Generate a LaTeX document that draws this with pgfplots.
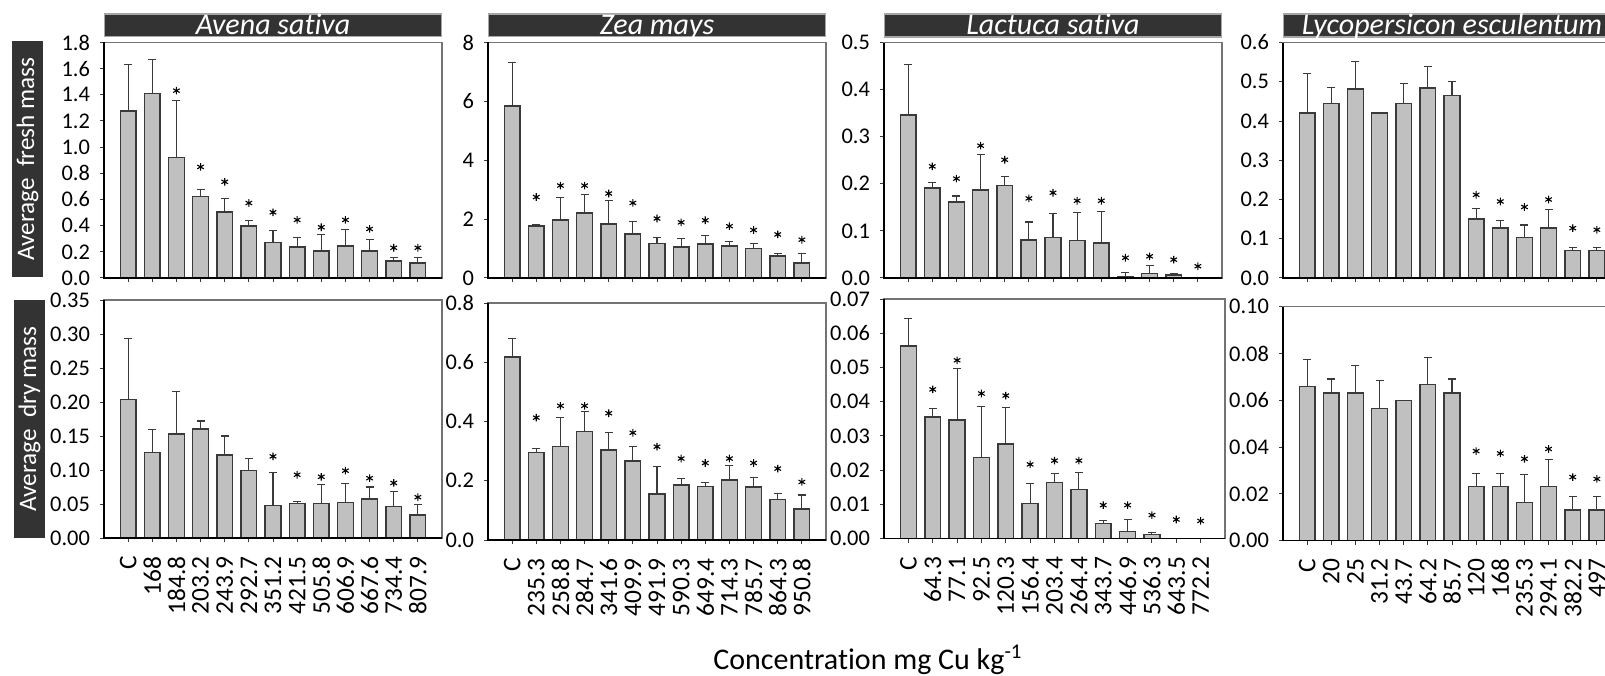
\documentclass[border=0pt]{standalone}
\usepackage{pgfplots}
\pgfplotsset{compat=1.18}
\usepackage{pgfplotstable}
\usepackage{fontspec}
\setmainfont{Carlito}[Ligatures=NoCommon]

\definecolor{barfill}{HTML}{C0C0C0}
\definecolor{boxdark}{HTML}{333333}
\definecolor{edge}{HTML}{3A3A3A}

% x: position, y: mean, t: top of error bar (nan = none), s: asterisk height (nan = none)
\pgfplotstableread{
x y t s
0 1.275 1.635 nan
1 1.412 1.668 nan
2 0.920 1.359 1.432
3 0.624 0.674 0.849
4 0.505 0.608 0.735
5 0.396 0.441 0.573
6 0.271 0.363 0.502
7 0.236 0.309 0.444
8 0.205 0.330 0.388
9 0.246 0.368 0.444
10 0.205 0.292 0.375
11 0.129 0.160 0.231
12 0.114 0.160 0.231
}\tA
\pgfplotstableread{
x y t s
0 5.85 7.31 nan
1 1.76 1.81 2.75
2 1.97 2.73 3.14
3 2.20 2.84 3.14
4 1.83 2.64 2.87
5 1.50 1.92 2.55
6 1.18 1.39 2.02
7 1.05 1.34 1.89
8 1.16 1.45 1.96
9 1.09 1.23 1.76
10 1.01 1.17 1.63
11 0.75 0.83 1.48
12 0.51 0.83 1.30
}\tB
\pgfplotstableread{
x y t s
0 0.346 0.454 nan
1 0.191 0.203 0.237
2 0.161 0.174 0.211
3 0.187 0.263 0.281
4 0.196 0.215 0.251
5 0.081 0.119 0.169
6 0.086 0.137 0.181
7 0.080 0.139 0.164
8 0.074 0.142 0.164
9 0.0036 0.011 0.043
10 0.0092 0.026 0.046
11 0.0064 0.009 0.039
12 0 nan 0.025
}\tC
\pgfplotstableread{
x y t s
0 0.421 0.520 nan
1 0.444 0.485 nan
2 0.481 0.551 nan
3 0.421 nan nan
4 0.445 0.495 nan
5 0.484 0.539 nan
6 0.465 0.501 nan
7 0.150 0.176 0.212
8 0.127 0.147 0.195
9 0.103 0.135 0.181
10 0.127 0.174 0.200
11 0.070 0.078 0.127
12 0.070 0.078 0.123
}\tD
\pgfplotstableread{
x y t s
0 0.204 0.293 nan
1 0.126 0.160 nan
2 0.153 0.215 nan
3 0.160 0.172 nan
4 0.122 0.150 nan
5 0.099 0.117 nan
6 0.048 0.096 0.120
7 0.051 0.054 0.093
8 0.051 0.079 0.090
9 0.052 0.080 0.099
10 0.057 0.075 0.088
11 0.046 0.069 0.081
12 0.034 0.049 0.060
}\bA
\pgfplotstableread{
x y t s
0 0.617 0.680 nan
1 0.295 0.310 0.413
2 0.316 0.415 0.453
3 0.366 0.433 0.453
4 0.303 0.362 0.428
5 0.266 0.316 0.362
6 0.156 0.249 0.315
7 0.186 0.209 0.275
8 0.180 0.194 0.260
9 0.203 0.251 0.275
10 0.179 0.211 0.260
11 0.137 0.158 0.241
12 0.104 0.152 0.196
}\bB
\pgfplotstableread{
x y t s
0 0.0563 0.0644 nan
1 0.0356 0.0379 0.0436
2 0.0346 0.0496 0.0521
3 0.0237 0.0386 0.0424
4 0.0276 0.0383 0.0418
5 0.0103 0.0162 0.0217
6 0.0164 0.0191 0.0228
7 0.0144 0.0193 0.0228
8 0.0044 0.0054 0.0098
9 0.0021 0.0055 0.0098
10 0.0013 0.0018 0.0069
11 0 nan 0.0056
12 0 nan 0.0052
}\bC
\pgfplotstableread{
x y t s
0 0.0660 0.0775 nan
1 0.0632 0.0691 nan
2 0.0632 0.0749 nan
3 0.0566 0.0684 nan
4 0.0600 nan nan
5 0.0667 0.0782 nan
6 0.0632 0.0691 nan
7 0.0231 0.0289 0.0383
8 0.0231 0.0289 0.0373
9 0.0164 0.0282 0.0350
10 0.0231 0.0346 0.0392
11 0.0131 0.0188 0.0272
12 0.0131 0.0188 0.0264
}\bD

\pgfplotsset{
  panel/.style={
    scale only axis, width=169pt, height=117.75pt,
    anchor=south west,
    xmin=-1, xmax=13, ymin=0,
    xtick={0,...,12},
    xtick pos=bottom, ytick pos=left, tick align=outside,
    major tick length=2pt,
    tick style={edge, line width=0.5pt},
    axis line style={draw=black!55, line width=0.6pt},
    scaled y ticks=false,
    /pgf/number format/assume math mode=true,
    yticklabel style={font=\fontsize{11.2}{12}\selectfont, black},
    yticklabel shift=1.5pt,
    xticklabel style={font=\fontsize{12.7}{13}\selectfont, rotate=90, anchor=east, inner sep=0pt},
    xticklabel shift=7pt,
    clip=false,
  },
  toprow/.style={xticklabels={}},
  dec/.style={/pgf/number format/fixed, /pgf/number format/fixed zerofill, /pgf/number format/precision=#1},
  errplot/.style={ycomb, draw=edge, line width=0.55pt, mark=-, mark size=2pt,
    mark options={draw=edge, line width=0.55pt}},
  barplot/.style={ybar, bar width=0.65, bar shift=0pt, fill=barfill, draw=edge, line width=0.75pt},
  starplot/.style={only marks, mark=asterisk, mark size=1.9pt, black, mark options={line width=0.55pt}},
}
\tikzset{
  titlebox/.style={fill=boxdark, draw=gray!70, line width=0.8pt, text=white,
    font=\fontsize{15}{15}\selectfont\itshape, minimum width=168.5pt, inner sep=0pt,
    text height=10pt, text depth=1.3pt, anchor=south, yshift=2.5pt},
  ylabbox/.style={fill=boxdark, text=white, font=\fontsize{12.6}{13}\selectfont, rotate=90,
    inner sep=0pt, minimum height=15.5pt, text height=9.5pt, text depth=3pt},
}
\newcommand{\blackframe}{\draw[black, line width=0.6pt] (rel axis cs:0,1) -- (rel axis cs:0,0) -- (rel axis cs:1,0);}
\newcommand{\panelplots}[1]{%
  \addplot[errplot] table[x=x, y=t] {#1};
  \addplot[barplot] table[x=x, y=y] {#1};
  \addplot[starplot] table[x=x, y=s] {#1};
  \blackframe
}

\begin{document}
\begin{tikzpicture}
% ---------- top row ----------
\begin{axis}[panel, toprow, name=a1, at={(52pt,198.5pt)}, ymax=1.8, ytick={0,0.2,...,1.8}, dec=1]
\panelplots{\tA}
\end{axis}
\begin{axis}[panel, toprow, name=a2, at={(244pt,198.5pt)}, ymax=8, ytick={0,2,4,6,8}]
\panelplots{\tB}
\end{axis}
\begin{axis}[panel, toprow, name=a3, at={(442pt,198.5pt)}, ymax=0.5, ytick={0,0.1,...,0.5}, dec=1]
\panelplots{\tC}
\end{axis}
\begin{axis}[panel, toprow, name=a4, at={(641.5pt,198.5pt)}, ymax=0.6, ytick={0,0.1,...,0.6}, dec=1]
\panelplots{\tD}
\end{axis}
% ---------- bottom row ----------
\begin{axis}[panel, name=b1, at={(52pt,68.5pt)}, height=119pt, ymax=0.35, ytick={0,0.05,...,0.35}, dec=2,
  xticklabels={C,168,184.8,203.2,243.9,292.7,351.2,421.5,505.8,606.9,667.6,734.4,807.9}]
\panelplots{\bA}
\end{axis}
\begin{axis}[panel, name=b2, at={(244pt,67.5pt)}, height=118.5pt, ymax=0.8, ytick={0,0.2,...,0.8}, dec=1,
  xticklabels={C,235.3,258.8,284.7,341.6,409.9,491.9,590.3,649.4,714.3,785.7,864.3,950.8}]
\panelplots{\bB}
\end{axis}
\begin{axis}[panel, name=b3, at={(442pt,68.15pt)}, width=170.5pt, height=119.85pt, ymax=0.07, ytick={0,0.01,...,0.07}, dec=2,
  xticklabels={C,64.3,77.1,92.5,120.3,156.4,203.4,264.4,343.7,446.9,536.3,643.5,772.2}]
\panelplots{\bC}
\end{axis}
\begin{axis}[panel, name=b4, at={(641.5pt,67.15pt)}, height=117pt, ymax=0.1, ytick={0,0.02,...,0.1}, dec=2,
  xticklabels={C,20,25,31.2,43.7,64.2,85.7,120,168,235.3,294.1,382.2,497}]
\panelplots{\bD}
\end{axis}
% ---------- titles ----------
\node[titlebox] at (a1.north) {Avena sativa};
\node[titlebox] at (a2.north) {Zea mays};
\node[titlebox] at (a3.north) {Lactuca sativa};
\node[titlebox] at (a4.north) {Lycopersicon esculentum};
% ---------- y labels ----------
\node[ylabbox, minimum width=118pt] at (13.75pt,258pt) {Average\ \ fresh mass};
\node[ylabbox, minimum width=119pt] at (14.75pt,128pt) {Average\ \ dry mass};
% ---------- x label ----------
\node[font=\fontsize{15}{15}\selectfont, inner sep=0pt] at (434pt,7.5pt) {Concentration mg Cu kg\textsuperscript{-1}};
\pgfresetboundingbox
\path[use as bounding box] (0pt,0pt) rectangle (802.5pt,337.5pt);
\end{tikzpicture}
\end{document}
